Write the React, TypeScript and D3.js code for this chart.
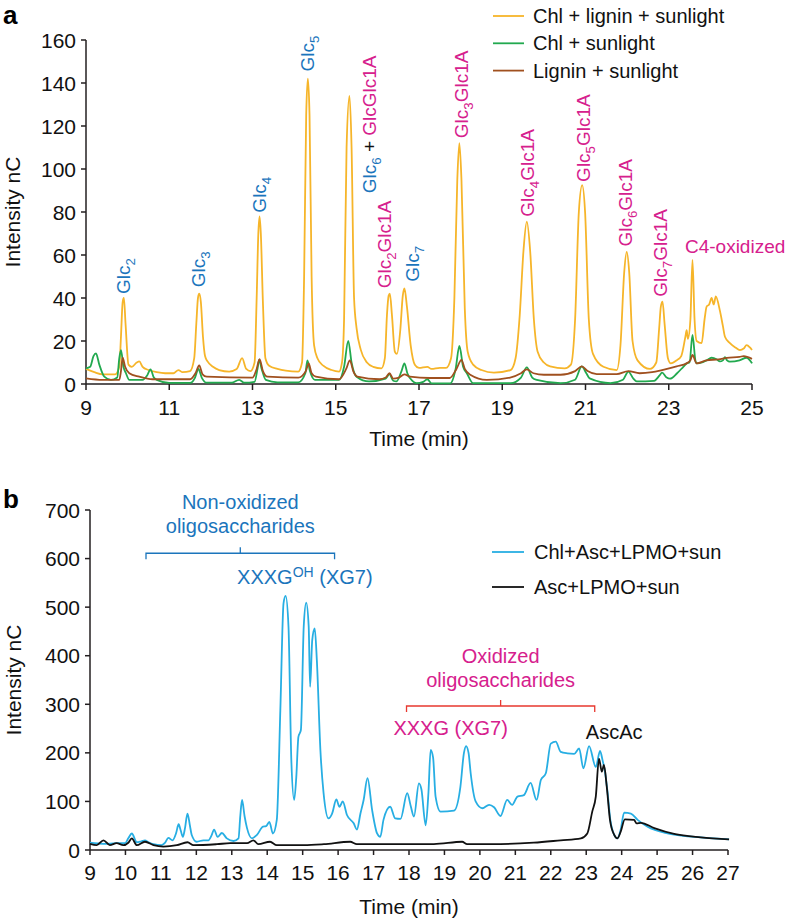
import React from 'react';
import * as d3 from 'd3';

type Pt = [number, number];

// ---------- panel a data ----------
const aXTicks = [9, 11, 13, 15, 17, 19, 21, 23, 25];
const aYTicks = [0, 20, 40, 60, 80, 100, 120, 140, 160];

// Chl + lignin + sunlight
const chlLigninSun: Pt[] = [
  [9.0, 7], [9.2, 5.5], [9.4, 4.5], [9.7, 4.5], [9.8, 8], [9.84, 22], [9.88, 38], [9.91, 40], [9.95, 28], [10.02, 9],
  [10.1, 8], [10.22, 10], [10.28, 10.5], [10.36, 8], [10.5, 6.5], [10.7, 5.5], [10.9, 5], [11.1, 5],
  [11.22, 6.5], [11.32, 5.5], [11.5, 6], [11.6, 12], [11.65, 28], [11.69, 40], [11.72, 42], [11.76, 38], [11.81, 22], [11.86, 13],
  [11.92, 10.5], [12.05, 8], [12.2, 6.5], [12.44, 5.8], [12.62, 7], [12.75, 12], [12.85, 7], [12.95, 6],
  [13.05, 10], [13.1, 40], [13.14, 70], [13.17, 78], [13.2, 70], [13.25, 38], [13.31, 12], [13.4, 8.5], [13.6, 7], [13.8, 6.2],
  [14.1, 5.8], [14.19, 10], [14.24, 50], [14.29, 125], [14.33, 142], [14.37, 125], [14.42, 50], [14.48, 18], [14.56, 12], [14.7, 8.5],
  [14.9, 6.5], [15.08, 5.8], [15.15, 10], [15.2, 30], [15.26, 110], [15.33, 134], [15.38, 110], [15.44, 40], [15.5, 26],
  [15.6, 16], [15.75, 10], [15.9, 8], [16.1, 7.3], [16.18, 12], [16.23, 32], [16.27, 41], [16.3, 42], [16.35, 32],
  [16.42, 15], [16.47, 14], [16.55, 25], [16.61, 41], [16.65, 44.5], [16.71, 36], [16.8, 18], [16.9, 9],
  [17.0, 7.5], [17.2, 8], [17.3, 7], [17.5, 7.5], [17.65, 7.5], [17.77, 12], [17.85, 40], [17.92, 95], [17.97, 112],
  [18.02, 95], [18.1, 35], [18.17, 15], [18.3, 9], [18.5, 6.5], [18.8, 5.3], [19.2, 6.5], [19.32, 12], [19.42, 32], [19.51, 62],
  [19.59, 75.5], [19.67, 62], [19.76, 30], [19.85, 15], [20.0, 10], [20.15, 8.2], [20.5, 7.3], [20.65, 9], [20.75, 30],
  [20.84, 80], [20.92, 92.5], [20.99, 80], [21.08, 30], [21.18, 14], [21.43, 8], [21.75, 6.5], [21.84, 18],
  [21.93, 52], [21.99, 61.5], [22.05, 52], [22.13, 20], [22.25, 11], [22.55, 7], [22.7, 10], [22.77, 26],
  [22.81, 36], [22.85, 38.3], [22.9, 28], [22.98, 12], [23.05, 9.6], [23.19, 11], [23.3, 13], [23.4, 22], [23.43, 25],
  [23.46, 21], [23.52, 30], [23.57, 57.7], [23.62, 30], [23.67, 20], [23.79, 19], [23.86, 30], [23.91, 36],
  [23.97, 37], [24.03, 40], [24.08, 37], [24.13, 40.7], [24.23, 34], [24.3, 27], [24.35, 22], [24.47, 19],
  [24.6, 17], [24.71, 15.8], [24.8, 16.5], [24.87, 18.1], [24.95, 17], [25.0, 15.8],
];

// Chl + sunlight
const chlSun: Pt[] = [
  [9.0, 7.3], [9.1, 8], [9.18, 13], [9.24, 14.2], [9.32, 9], [9.44, 3.4], [9.6, 1.9], [9.75, 3], [9.8, 12],
  [9.84, 15.7], [9.9, 8], [9.96, 5], [10.04, 1.9], [10.36, 1.9], [10.47, 4], [10.55, 6.8], [10.63, 3],
  [10.7, 1.9], [11.0, 0.5], [11.5, 0.5], [11.62, 3], [11.7, 7], [11.78, 3], [11.9, 0.6], [12.5, 0.6],
  [12.68, 1.9], [12.8, 0.6], [13.05, 1], [13.12, 7], [13.16, 11.2], [13.22, 7], [13.32, 1.9], [13.6, 0.8],
  [14.1, 0.8], [14.27, 5], [14.32, 11], [14.38, 6], [14.5, 1.9], [15.08, 1.9], [15.2, 8], [15.3, 20.1],
  [15.38, 10], [15.5, 3.4], [15.8, 1.2], [16.2, 2.5], [16.29, 4.6], [16.38, 1.5], [16.46, 1.2], [16.58, 6],
  [16.65, 9.6], [16.72, 5], [16.84, 1.5], [16.94, 0.4], [17.1, 1], [17.2, 2.2], [17.3, 0.3], [17.75, 0.3],
  [17.88, 7], [17.97, 17.7], [18.06, 8], [18.15, 5], [18.3, 0.4], [19.2, 0.4], [19.45, 3], [19.59, 7.7],
  [19.72, 3], [19.83, 1.9], [20.4, 0.4], [20.75, 2], [20.91, 8.2], [21.02, 5], [21.1, 2.6], [21.6, 0.4],
  [21.9, 2], [22.03, 5.8], [22.15, 2.5], [22.23, 1.2], [22.65, 1.5], [22.78, 4], [22.84, 5.3], [22.95, 3],
  [23.03, 2.5], [23.2, 5], [23.35, 8], [23.43, 9.6], [23.5, 10], [23.57, 22.8], [23.64, 11], [23.67, 9.6],
  [23.8, 10], [23.91, 11], [24.03, 12.2], [24.15, 11.5], [24.23, 10.5], [24.3, 11], [24.35, 12.5],
  [24.4, 11], [24.47, 10.4], [24.7, 11], [24.87, 12.2], [24.95, 11], [25.0, 9.6],
];

// Lignin + sunlight
const ligninSun: Pt[] = [
  [9.0, 2.6], [9.4, 1.9], [9.8, 1.9], [9.84, 6], [9.88, 12.2], [9.94, 8], [10.04, 5], [10.28, 3.4],
  [10.6, 2.2], [11.5, 2.2], [11.63, 5], [11.72, 8.6], [11.8, 4.5], [11.9, 3.4], [13.0, 3], [13.1, 7],
  [13.17, 11.6], [13.25, 6], [13.36, 3.4], [14.1, 3], [14.28, 6], [14.35, 9.6], [14.42, 5], [14.52, 3.4],
  [15.08, 2.2], [15.25, 7], [15.34, 11], [15.42, 6], [15.52, 3.4], [16.05, 2.2], [16.2, 3], [16.29, 5],
  [16.38, 2.5], [16.5, 2.8], [16.65, 4.5], [16.78, 3.4], [17.26, 2.8], [17.74, 2.8], [17.9, 7],
  [18.02, 11.2], [18.1, 7], [18.23, 4.3], [18.63, 1.9], [19.19, 3], [19.45, 5], [19.59, 6.8], [19.75, 5],
  [20.0, 4.3], [20.4, 4.3], [20.75, 6], [20.91, 8.2], [21.05, 6], [21.27, 4.6], [21.75, 4.6], [22.03, 6],
  [22.3, 5], [22.6, 5.5], [22.84, 6.5], [23.19, 8.2], [23.43, 9.6], [23.52, 11], [23.57, 13.5],
  [23.67, 9.6], [23.9, 11], [24.2, 11.5], [24.4, 12.2], [24.7, 12.6], [24.8, 13], [25.0, 11.7],
];

const aSeriesNames = ['Chl + lignin + sunlight', 'Chl + sunlight', 'Lignin + sunlight'];
const aSeriesColors = ['#f6b52a', '#22a94f', '#a0501f'];

type Part = { txt: string; sub?: string; c: string };
// peak labels: time (centre), intensity (where text starts), text parts
const aPeakTimes = [9.877, 11.68, 13.15, 14.32, 15.8, 16.15, 16.82, 18.01, 19.6, 20.93, 21.96, 22.8];
const aPeakLevels = [41.9, 45, 79.7, 145.3, 88.7, 44.5, 47.6, 114.3, 77.8, 94, 63.9, 40.6];
const aPeakTexts: Part[][] = [
  [{ txt: 'Glc', sub: '2', c: 'blue' }],
  [{ txt: 'Glc', sub: '3', c: 'blue' }],
  [{ txt: 'Glc', sub: '4', c: 'blue' }],
  [{ txt: 'Glc', sub: '5', c: 'blue' }],
  [{ txt: 'Glc', sub: '6', c: 'blue' }, { txt: ' + ', c: 'black' }, { txt: 'GlcGlc1A', c: 'pink' }],
  [{ txt: 'Glc', sub: '2', c: 'pink' }, { txt: 'Glc1A', c: 'pink' }],
  [{ txt: 'Glc', sub: '7', c: 'blue' }],
  [{ txt: 'Glc', sub: '3', c: 'pink' }, { txt: 'Glc1A', c: 'pink' }],
  [{ txt: 'Glc', sub: '4', c: 'pink' }, { txt: 'Glc1A', c: 'pink' }],
  [{ txt: 'Glc', sub: '5', c: 'pink' }, { txt: 'Glc1A', c: 'pink' }],
  [{ txt: 'Glc', sub: '6', c: 'pink' }, { txt: 'Glc1A', c: 'pink' }],
  [{ txt: 'Glc', sub: '7', c: 'pink' }, { txt: 'Glc1A', c: 'pink' }],
];
const aC4Label: Pt = [23.39, 60.8];

// ---------- panel b data ----------
const bXTicks = d3.range(9, 28);
const bYTicks = [0, 100, 200, 300, 400, 500, 600, 700];

// Chl+Asc+LPMO+sun
const chlAscLpmo: Pt[] = [
  [9.0, 15], [9.38, 12.6], [9.75, 14], [9.99, 14], [10.08, 24], [10.18, 34], [10.32, 16], [10.45, 18],
  [10.55, 20], [10.65, 16], [10.79, 12], [11.02, 10], [11.12, 15], [11.21, 25], [11.33, 20], [11.43, 35],
  [11.5, 53], [11.56, 40], [11.62, 27], [11.68, 45], [11.75, 75], [11.82, 50], [11.87, 31], [12.01, 17],
  [12.2, 20], [12.34, 20], [12.43, 30], [12.5, 42], [12.6, 27], [12.72, 35], [12.86, 24], [13.05, 18.5],
  [13.19, 24], [13.24, 70], [13.29, 103], [13.36, 70], [13.43, 45], [13.57, 24], [13.71, 31], [13.88, 48],
  [13.97, 49], [14.06, 58], [14.16, 34], [14.27, 62], [14.37, 288], [14.46, 508], [14.52, 523], [14.6, 460],
  [14.68, 185], [14.76, 103], [14.82, 150], [14.88, 233], [14.95, 247], [15.03, 460], [15.1, 509],
  [15.17, 460], [15.21, 336], [15.27, 432], [15.34, 456], [15.4, 391], [15.5, 206], [15.59, 117],
  [15.73, 65], [15.83, 75], [15.95, 104], [16.04, 89], [16.13, 100], [16.25, 72], [16.44, 55], [16.53, 42],
  [16.63, 75], [16.72, 103], [16.83, 148], [16.96, 82], [17.1, 34], [17.19, 27], [17.28, 62], [17.47, 89],
  [17.61, 65], [17.76, 64], [17.95, 117], [18.05, 90], [18.14, 69], [18.28, 137], [18.35, 125], [18.47, 51],
  [18.55, 120], [18.61, 206], [18.68, 190], [18.75, 110], [18.89, 79], [19.27, 81], [19.45, 130],
  [19.55, 200], [19.61, 214], [19.68, 200], [19.74, 158], [19.88, 100], [20.07, 86], [20.26, 93],
  [20.4, 88], [20.58, 70], [20.77, 103], [20.91, 93], [21.06, 110], [21.24, 113], [21.43, 138], [21.6, 103],
  [21.72, 144], [21.86, 158], [22.0, 219], [22.14, 223], [22.28, 202], [22.47, 199], [22.66, 198],
  [22.8, 209], [22.92, 168], [23.08, 214], [23.27, 171], [23.39, 204], [23.46, 185], [23.52, 165],
  [23.6, 120], [23.68, 62], [23.79, 31], [23.88, 24], [23.97, 41], [24.07, 77], [24.26, 75], [24.45, 62],
  [24.73, 48], [25.29, 34], [26.05, 27], [27.03, 22],
];

// Asc+LPMO+sun
const ascLpmo: Pt[] = [
  [9.0, 12.6], [9.19, 10], [9.38, 20], [9.56, 10], [9.75, 14], [9.94, 10], [10.08, 15], [10.18, 24],
  [10.32, 10], [10.55, 17], [10.79, 10], [11.07, 7], [11.45, 10], [11.75, 16], [11.92, 10], [12.58, 12],
  [12.96, 14], [13.43, 14], [13.61, 20], [13.75, 12], [14.08, 17], [14.27, 10], [15.03, 10], [15.6, 12],
  [16.34, 17], [16.53, 12], [17.76, 12.3], [18.7, 12.3], [19.5, 17], [19.64, 12.3], [20.58, 12.3],
  [21.52, 15], [22.28, 20], [22.85, 24], [23.03, 34], [23.17, 79], [23.27, 110], [23.36, 188],
  [23.44, 161], [23.5, 175], [23.58, 130], [23.67, 62], [23.79, 31], [23.88, 24], [23.97, 37], [24.09, 63],
  [24.35, 62], [24.42, 55], [24.54, 56], [24.92, 45], [25.48, 33], [26.23, 26], [27.03, 22],
];

const bSeriesNames = ['Chl+Asc+LPMO+sun', 'Asc+LPMO+sun'];
const bSeriesColors = ['#27aee3', '#111111'];

// bracket spans [start, end, level] in data units
const bNonOxBracket = [10.58, 15.9, 611];
const bOxBracket = [17.93, 23.24, 296.5];

const COLORS: Record<string, string> = { blue: '#1b75bc', pink: '#d6208d', black: '#111', red: '#e8382f' };
const FONT = "'Liberation Sans', Arial, Helvetica, sans-serif";
const AXIS = '#231f20';

function PartsText({ parts, size }: { parts: Part[]; size: number }) {
  const spans: React.ReactNode[] = [];
  let shift = 0;
  parts.forEach((p, i) => {
    spans.push(
      <tspan key={i + 'a'} fill={COLORS[p.c]} dy={-shift} style={{ whiteSpace: 'pre' }}>{p.txt}</tspan>
    );
    shift = 0;
    if (p.sub) {
      spans.push(
        <tspan key={i + 'b'} fill={COLORS[p.c]} fontSize={size * 0.7} dy={5}>{p.sub}</tspan>
      );
      shift = 5;
    }
  });
  return <>{spans}</>;
}

function PanelA() {
  const x = d3.scaleLinear().domain([9, 25]).range([86, 752]);
  const y = d3.scaleLinear().domain([0, 160]).range([384, 40]);
  const line = d3.line<Pt>().x(d => x(d[0])).y(d => y(d[1])).curve(d3.curveMonotoneX);
  const series = [chlLigninSun, chlSun, ligninSun];
  return (
    <g fontFamily={FONT}>
      <text x={3} y={24} fontSize={26} fontWeight="bold" fill="#000">a</text>
      {/* y axis */}
      <line x1={x(9)} x2={x(9)} y1={y(160)} y2={y(0)} stroke={AXIS} strokeWidth={1.5} />
      {aYTicks.map(t => (
        <g key={t}>
          <line x1={x(9) - 5} x2={x(9)} y1={y(t)} y2={y(t)} stroke={AXIS} strokeWidth={1.5} />
          <text x={x(9) - 10} y={y(t) + 7.5} fontSize={21} textAnchor="end" fill="#111">{t}</text>
        </g>
      ))}
      {/* x axis */}
      <line x1={x(9)} x2={x(25)} y1={y(0)} y2={y(0)} stroke={AXIS} strokeWidth={1.5} />
      {aXTicks.map(t => (
        <g key={t}>
          <line x1={x(t)} x2={x(t)} y1={y(0)} y2={y(0) + 6} stroke={AXIS} strokeWidth={1.5} />
          <text x={x(t)} y={y(0) + 31} fontSize={21} textAnchor="middle" fill="#111">{t}</text>
        </g>
      ))}
      <text x={(x(9) + x(25)) / 2} y={446} fontSize={21} textAnchor="middle" fill="#111">Time (min)</text>
      <text transform={`translate(20,${y(80)}) rotate(-90)`} fontSize={21} textAnchor="middle" fill="#111">Intensity nC</text>
      {series.map((s, i) => (
        <path key={i} d={line(s) || ''} fill="none" stroke={aSeriesColors[i]} strokeWidth={1.8} strokeLinejoin="round" />
      ))}
      {/* peak labels */}
      {aPeakTexts.map((parts, i) => (
        <text key={i} transform={`translate(${x(aPeakTimes[i]) + 7},${y(aPeakLevels[i])}) rotate(-90)`} fontSize={19}>
          <PartsText parts={parts} size={19} />
        </text>
      ))}
      <text x={x(aC4Label[0])} y={y(aC4Label[1])} fontSize={19} fill={COLORS.pink}>C4-oxidized</text>
      {/* legend */}
      {aSeriesNames.map((n, i) => (
        <g key={n} transform={`translate(493,${16 + i * 27.3})`}>
          <line x1={0} x2={31} y1={0} y2={0} stroke={aSeriesColors[i]} strokeWidth={1.8} />
          <text x={40} y={7} fontSize={20} fill="#111">{n}</text>
        </g>
      ))}
    </g>
  );
}

function Bracket({ x, y, span, color }: { x: d3.ScaleLinear<number, number>; y: d3.ScaleLinear<number, number>; span: number[]; color: string }) {
  const [a, b, lv] = span;
  const yy = y(lv);
  const mid = (x(a) + x(b)) / 2;
  const d = `M${x(a)},${yy + 6} L${x(a)},${yy} L${x(b)},${yy} L${x(b)},${yy + 6} M${mid},${yy} L${mid},${yy - 6}`;
  return <path d={d} fill="none" stroke={color} strokeWidth={1.3} />;
}

function PanelB() {
  const x = d3.scaleLinear().domain([9, 27]).range([90, 728]);
  const y = d3.scaleLinear().domain([0, 700]).range([850, 510]);
  const line = d3.line<Pt>().x(d => x(d[0])).y(d => y(d[1])).curve(d3.curveMonotoneX);
  const series = [chlAscLpmo, ascLpmo];
  const nonMid = (bNonOxBracket[0] + bNonOxBracket[1]) / 2;
  const oxMid = (bOxBracket[0] + bOxBracket[1]) / 2;
  return (
    <g fontFamily={FONT}>
      <text x={3} y={508} fontSize={26} fontWeight="bold" fill="#000">b</text>
      <line x1={x(9)} x2={x(9)} y1={y(700)} y2={y(0)} stroke={AXIS} strokeWidth={1.5} />
      {bYTicks.map(t => (
        <g key={t}>
          <line x1={x(9) - 5} x2={x(9)} y1={y(t)} y2={y(t)} stroke={AXIS} strokeWidth={1.5} />
          <text x={x(9) - 10} y={y(t) + 7.5} fontSize={21} textAnchor="end" fill="#111">{t}</text>
        </g>
      ))}
      <line x1={x(9)} x2={x(27)} y1={y(0)} y2={y(0)} stroke={AXIS} strokeWidth={1.5} />
      {bXTicks.map(t => (
        <g key={t}>
          <line x1={x(t)} x2={x(t)} y1={y(0)} y2={y(0) + 5} stroke={AXIS} strokeWidth={1.5} />
          <text x={x(t)} y={y(0) + 30} fontSize={21} textAnchor="middle" fill="#111">{t}</text>
        </g>
      ))}
      <text x={(x(9) + x(27)) / 2} y={914} fontSize={21} textAnchor="middle" fill="#111">Time (min)</text>
      <text transform={`translate(21,${y(350)}) rotate(-90)`} fontSize={21} textAnchor="middle" fill="#111">Intensity nC</text>
      {series.map((s, i) => (
        <path key={i} d={line(s) || ''} fill="none" stroke={bSeriesColors[i]} strokeWidth={1.8} strokeLinejoin="round" />
      ))}
      {/* annotations */}
      <text x={x(nonMid)} y={y(702)} fontSize={20} textAnchor="middle" fill={COLORS.blue}>Non-oxidized</text>
      <text x={x(nonMid)} y={y(652.6)} fontSize={20} textAnchor="middle" fill={COLORS.blue}>oligosaccharides</text>
      <Bracket x={x} y={y} span={bNonOxBracket} color={COLORS.blue} />
      <text x={x(13.15)} y={y(547.7)} fontSize={20} fill={COLORS.blue}>
        XXXG<tspan fontSize={14} dy={-7}>OH</tspan><tspan dy={7} style={{ whiteSpace: 'pre' }}> (XG7)</tspan>
      </text>
      <text x={x(oxMid)} y={y(385)} fontSize={20} textAnchor="middle" fill={COLORS.pink}>Oxidized</text>
      <text x={x(oxMid)} y={y(335.6)} fontSize={20} textAnchor="middle" fill={COLORS.pink}>oligosaccharides</text>
      <Bracket x={x} y={y} span={bOxBracket} color={COLORS.red} />
      <text x={x(17.56)} y={y(236.8)} fontSize={20} fill={COLORS.pink}>XXXG (XG7)</text>
      <text x={x(22.99)} y={y(228.5)} fontSize={20} fill="#111">AscAc</text>
      {bSeriesNames.map((n, i) => (
        <g key={n} transform={`translate(492,${552 + i * 35})`}>
          <line x1={0} x2={32} y1={0} y2={0} stroke={bSeriesColors[i]} strokeWidth={1.8} />
          <text x={42} y={7} fontSize={20} fill="#111">{n}</text>
        </g>
      ))}
    </g>
  );
}

export default function App() {
  return (
    <svg width={788} height={918} style={{ position: 'absolute', left: 0, top: 0, background: '#fff' }}>
      <rect width={788} height={918} fill="#fff" />
      <PanelA />
      <PanelB />
    </svg>
  );
}
